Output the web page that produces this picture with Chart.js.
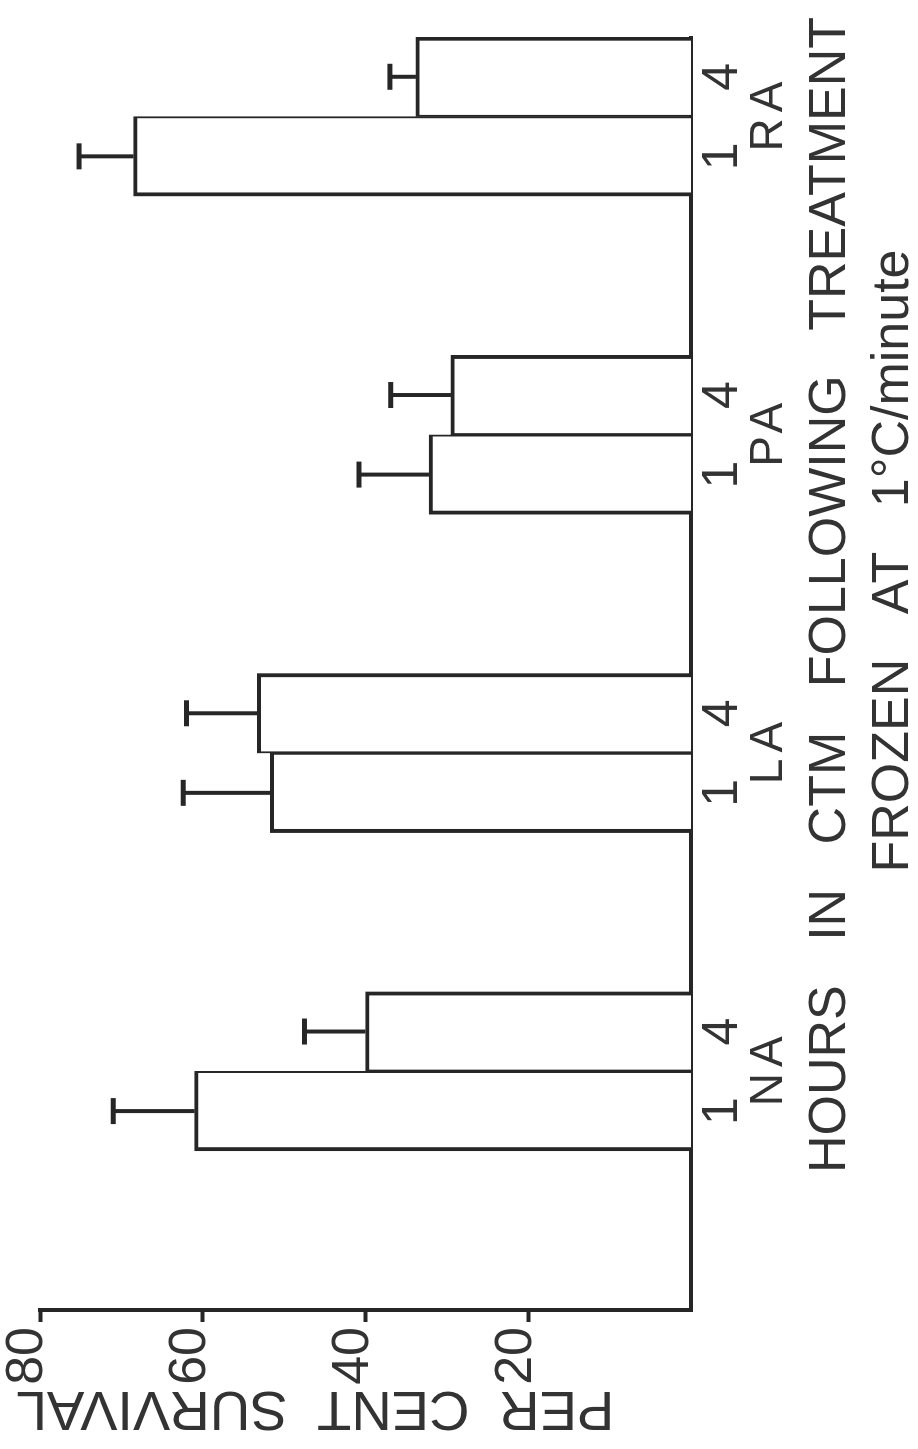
<!DOCTYPE html>
<html>
<head>
<meta charset="utf-8">
<script src="https://cdn.jsdelivr.net/npm/chart.js@4.4.1/dist/chart.umd.min.js"></script>
<style>
  html, body { margin: 0; padding: 0; background: #fff; overflow: hidden; }
  body { width: 918px; height: 1449px; position: relative; }
  /* the figure is drawn upright and then turned a quarter left, like the scan */
  #wrap { position: absolute; left: 0; top: 0; width: 1449px; height: 918px;
          transform-origin: 0 0; transform: translate(0, 1449px) rotate(-90deg); }
</style>
</head>
<body>
<div id="wrap"><canvas id="chart" width="1449" height="918"></canvas></div>
<script>
// --- data ---
const groups = ['NA', 'LA', 'PA', 'RA'];
const hours = ['1', '4'];
const survival1h = [61, 51.7, 32.2, 68.5];
const survival4h = [40, 53.3, 29.5, 33.8];
const error1h = [10, 10.7, 8.6, 6.7];
const error4h = [7.5, 8.7, 7.4, 3.2];
const valueTicks = [20, 40, 60, 80];

const INK = '#262626';
const TEXT = '#333333';
const FONT = "'Liberation Sans', Arial, sans-serif";

// each group takes 4 slots: two empty, then the 1 h and 4 h bars
const slotLabels = [], slotValues = [], slotErrors = [], pairs = [];
groups.forEach((g, i) => {
    slotLabels.push('', '', hours[0], hours[1]);
    slotValues.push(null, null, survival1h[i], survival4h[i]);
    slotErrors.push(null, null, error1h[i], error4h[i]);
    pairs.push({ name: g, first: slotLabels.length - 2, second: slotLabels.length - 1 });
});

// error bars + free text under the axis
const extras = {
    id: 'extras',
    afterDatasetsDraw(chart) {
        const ctx = chart.ctx;
        const y = chart.scales.y;
        const meta = chart.getDatasetMeta(0);
        ctx.save();
        ctx.strokeStyle = INK;
        ctx.lineWidth = 4;
        meta.data.forEach((bar, i) => {
            if (slotErrors[i] == null) return;
            const top = y.getPixelForValue(slotValues[i] + slotErrors[i]);
            ctx.beginPath();
            ctx.moveTo(bar.x, bar.y);
            ctx.lineTo(bar.x, top);
            ctx.stroke();
            ctx.lineWidth = 5;
            ctx.beginPath();
            ctx.moveTo(bar.x - 13, top);
            ctx.lineTo(bar.x + 13, top);
            ctx.stroke();
            ctx.lineWidth = 4;
        });
        ctx.restore();
    },
    afterDraw(chart) {
        const ctx = chart.ctx;
        const x = chart.scales.x;
        ctx.save();
        ctx.fillStyle = TEXT;
        ctx.textAlign = 'center';
        ctx.textBaseline = 'alphabetic';

        ctx.font = '46px ' + FONT;
        ctx.letterSpacing = '6px';
        pairs.forEach(p => {
            const cx = (x.getPixelForValue(p.first) + x.getPixelForValue(p.second)) / 2;
            ctx.fillText(p.name, cx + 3, 782);
        });

        ctx.letterSpacing = '0px';
        ctx.wordSpacing = '30px';
        ctx.font = '52px ' + FONT;
        ctx.fillText('HOURS IN CTM FOLLOWING TREATMENT', 854, 845);
        ctx.fillText('FROZEN AT 1°C/minute', 888, 908);

        // y title, read upward like the axis title of the original
        ctx.wordSpacing = '14px';
        ctx.translate(57, 315);
        ctx.rotate(-Math.PI / 2);
        ctx.font = '56px ' + FONT;
        ctx.fillText('PER CENT SURVIVAL', 0, 0);
        ctx.restore();
    }
};

new Chart(document.getElementById('chart'), {
    type: 'bar',
    data: {
        labels: slotLabels,
        datasets: [{
            data: slotValues,
            backgroundColor: '#ffffff',
            borderColor: INK,
            borderWidth: (c) => (c.dataIndex % 4 === 2)
                ? { top: 4, left: 4, right: 2, bottom: 0 }
                : { top: 4, left: 2, right: 4, bottom: 0 },
            borderSkipped: 'start',
            barPercentage: 1,
            categoryPercentage: 1
        }]
    },
    options: {
        responsive: false,
        animation: false,
        devicePixelRatio: 1,
        layout: { padding: { top: 40, right: 37, left: 0, bottom: 0 } },
        plugins: { legend: { display: false }, tooltip: { enabled: false }, title: { display: false } },
        scales: {
            x: {
                grid: { display: false, drawTicks: false },
                border: { display: true, width: 4, color: INK },
                ticks: { autoSkip: false, maxRotation: 0, padding: 2, color: TEXT, font: { family: FONT, size: 50 } },
                afterFit: (s) => { s.height = 227; }
            },
            y: {
                min: 0,
                max: 80,
                afterBuildTicks: (s) => { s.ticks = valueTicks.map(v => ({ value: v })); },
                grid: { drawOnChartArea: false, drawTicks: true, tickLength: 12, tickWidth: 4, color: INK },
                border: { display: true, width: 4, color: INK },
                ticks: { padding: 5, labelOffset: -12, color: TEXT,
                         font: { family: "'Liberation Sans Narrow', " + FONT, size: 52 } },
                afterFit: (s) => { s.width = 139; }
            }
        }
    },
    plugins: [extras]
});
</script>
</body>
</html>
